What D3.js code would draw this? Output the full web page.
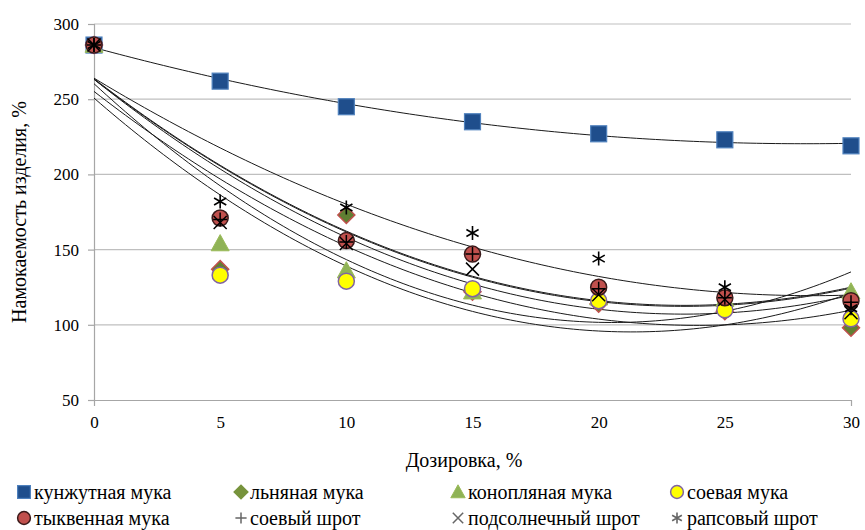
<!DOCTYPE html>
<html>
<head>
<meta charset="utf-8">
<script src="https://cdn.jsdelivr.net/npm/d3@7"></script>
<style>
  html, body { margin: 0; padding: 0; background: #fff; }
  svg { display: block; }
  svg text { font-family: "Times New Roman", "Liberation Serif", Times, "DejaVu Serif", "Noto Serif", serif; }
</style>
</head>
<body>
<svg id="chart" width="865" height="530"></svg>
<script>
// Dosage levels, %
const dosage = [0, 5, 10, 15, 20, 25, 30];

// Wettability of the product, % — one array per additive
const sesameFlour    = [286, 262, 245, 235, 227, 223, 219];
const flaxFlour      = [286, 137, 173, 122, 114, 109, 98];
const hempFlour      = [286, 154, 136, 122, 118, 117, 122];
const soyFlour       = [286, 133, 129, 124, 116, 110, 104];
const pumpkinFlour   = [286, 171, 156, 147, 125, 118, 116];
const soyMeal        = [286, 170, 155, 147, 124, 118, 115];
const sunflowerMeal  = [286, 168, 154, 137, 120, 117, 108];
const rapeseedMeal   = [286, 182, 178, 161, 144, 125, 111];

const seriesNames = [
  "кунжутная мука", "льняная мука", "конопляная мука", "соевая мука",
  "тыквенная мука", "соевый шрот", "подсолнечный шрот", "рапсовый шрот"
];
const seriesValues = [
  sesameFlour, flaxFlour, hempFlour, soyFlour,
  pumpkinFlour, soyMeal, sunflowerMeal, rapeseedMeal
];

const xTicks = [0, 5, 10, 15, 20, 25, 30];
const yTicks = [50, 100, 150, 200, 250, 300];

const TICK_FS = 17;
const TEXT_FS = 20;

// Marker look for each series
const markerStyle = [
  { shape: "square",   fill: "#1f4e8c", stroke: "#4f81bd" },
  { shape: "diamond",  fill: "#5f7f32", stroke: "#c0504d" },
  { shape: "triangle", fill: "#8fb356", stroke: "#9bbb59" },
  { shape: "circle",   fill: "#ffff00", stroke: "#8064a2" },
  { shape: "circle",   fill: "#c0504d", stroke: "#3a1a1a" },
  { shape: "plus",     fill: "none",    stroke: "#000" },
  { shape: "cross",    fill: "none",    stroke: "#000" },
  { shape: "star",     fill: "none",    stroke: "#000" }
];

const svg = d3.select("#chart");
const margin = { left: 94, right: 14, top: 24, bottom: 130 };
const W = 865, H = 530;

const x = d3.scaleLinear().domain([0, 30]).range([margin.left, W - margin.right]);
const y = d3.scaleLinear().domain([50, 300]).range([H - margin.bottom, margin.top]);

// Horizontal gridlines
svg.append("g")
  .selectAll("line")
  .data(yTicks.filter(d => d > 50))
  .join("line")
  .attr("x1", x(0)).attr("x2", x(30))
  .attr("y1", d => y(d)).attr("y2", d => y(d))
  .attr("stroke", "#bfbfbf").attr("stroke-width", 1.2);

// Axes
const yAxis = svg.append("g")
  .attr("transform", `translate(${x(0)},0)`)
  .call(d3.axisLeft(y).tickValues(yTicks).tickSize(6).tickPadding(9));
const xAxis = svg.append("g")
  .attr("transform", `translate(0,${y(50)})`)
  .call(d3.axisBottom(x).tickValues(xTicks).tickSize(6).tickPadding(10));
[yAxis, xAxis].forEach(g => {
  g.attr("font-family", null);
  g.select(".domain").attr("stroke", "#a6a6a6").attr("stroke-width", 1.2);
  g.selectAll(".tick line").attr("stroke", "#a6a6a6").attr("stroke-width", 1.2);
  g.selectAll("text").attr("font-size", TICK_FS).attr("fill", "#000");
});
xAxis.selectAll(".tick line").attr("y2", 0);

// Axis titles
svg.append("text")
  .attr("x", 464).attr("y", 467)
  .attr("text-anchor", "middle").attr("font-size", TEXT_FS)
  .text("Дозировка, %");
svg.append("text")
  .attr("transform", `translate(26,${(y(50) + y(300)) / 2}) rotate(-90)`)
  .attr("text-anchor", "middle").attr("font-size", TEXT_FS)
  .text("Намокаемость изделия, %");

// Second-order least-squares trendline for a series
function polyFit2(xs, ys) {
  const s = [0, 0, 0, 0, 0], t = [0, 0, 0];
  xs.forEach((xv, i) => {
    const yv = ys[i];
    for (let k = 0; k < 5; k++) s[k] += Math.pow(xv, k);
    for (let k = 0; k < 3; k++) t[k] += Math.pow(xv, k) * yv;
  });
  const A = [
    [s[0], s[1], s[2], t[0]],
    [s[1], s[2], s[3], t[1]],
    [s[2], s[3], s[4], t[2]]
  ];
  for (let i = 0; i < 3; i++) {
    let p = i;
    for (let r = i + 1; r < 3; r++) if (Math.abs(A[r][i]) > Math.abs(A[p][i])) p = r;
    [A[i], A[p]] = [A[p], A[i]];
    for (let r = 0; r < 3; r++) {
      if (r === i) continue;
      const f = A[r][i] / A[i][i];
      for (let c = i; c < 4; c++) A[r][c] -= f * A[i][c];
    }
  }
  return [A[0][3] / A[0][0], A[1][3] / A[1][1], A[2][3] / A[2][2]];
}

const line = d3.line().x(d => x(d[0])).y(d => y(d[1]));
const trendG = svg.append("g");
seriesValues.forEach(vals => {
  const c = polyFit2(dosage, vals);
  const pts = d3.range(0, 30.001, 0.25).map(v => [v, c[0] + c[1] * v + c[2] * v * v]);
  trendG.append("path")
    .attr("d", line(pts))
    .attr("fill", "none").attr("stroke", "#1a1a1a").attr("stroke-width", 1);
});

// Marker drawing
function drawMarker(g, shape, cx, cy, st, scale) {
  const k = scale || 1;
  if (shape === "square") {
    const s = 16 * k;
    g.append("rect").attr("x", cx - s / 2).attr("y", cy - s / 2).attr("width", s).attr("height", s)
      .attr("fill", st.fill).attr("stroke", st.stroke).attr("stroke-width", 1.2);
  } else if (shape === "diamond") {
    const r = 8.5 * k;
    g.append("path").attr("d", `M${cx},${cy - r}L${cx + r},${cy}L${cx},${cy + r}L${cx - r},${cy}Z`)
      .attr("fill", st.fill).attr("stroke", st.stroke).attr("stroke-width", 1.5);
  } else if (shape === "triangle") {
    const r = 9 * k;
    g.append("path").attr("d", `M${cx},${cy - r}L${cx + r},${cy + r * 0.8}L${cx - r},${cy + r * 0.8}Z`)
      .attr("fill", st.fill).attr("stroke", st.stroke).attr("stroke-width", 1);
  } else if (shape === "circle") {
    g.append("circle").attr("cx", cx).attr("cy", cy).attr("r", 8 * k)
      .attr("fill", st.fill).attr("stroke", st.stroke).attr("stroke-width", 1.5);
  } else if (shape === "plus") {
    const r = 7 * k;
    g.append("path").attr("d", `M${cx - r},${cy}H${cx + r}M${cx},${cy - r}V${cy + r}`)
      .attr("stroke", st.stroke).attr("stroke-width", 1.5).attr("fill", "none");
  } else if (shape === "cross") {
    const r = 6.5 * k;
    g.append("path").attr("d", `M${cx - r},${cy - r}L${cx + r},${cy + r}M${cx - r},${cy + r}L${cx + r},${cy - r}`)
      .attr("stroke", st.stroke).attr("stroke-width", 1.5).attr("fill", "none");
  } else if (shape === "star") {
    const r = 7 * k;
    g.append("path").attr("d",
      `M${cx},${cy - r}V${cy + r}M${cx - r * 0.87},${cy - r * 0.5}L${cx + r * 0.87},${cy + r * 0.5}` +
      `M${cx - r * 0.87},${cy + r * 0.5}L${cx + r * 0.87},${cy - r * 0.5}`)
      .attr("stroke", st.stroke).attr("stroke-width", 1.6).attr("fill", "none");
  }
}

const markG = svg.append("g");
seriesValues.forEach((vals, si) => {
  const g = markG.append("g");
  vals.forEach((v, i) => drawMarker(g, markerStyle[si].shape, x(dosage[i]), y(v), markerStyle[si]));
});

// Legend, two rows of four entries
const legendMarkX = [24, 241, 458, 677];
const legendTextX = [34, 250, 468, 687];
const legendRows = [492, 518];
const legendStyle = markerStyle.map((st, i) => {
  if (i === 1) return { ...st, fill: "#77933c", stroke: "#77933c" };
  if (i >= 5) return { ...st, stroke: "#666" };
  return st;
});
seriesNames.forEach((name, i) => {
  const col = i % 4, row = Math.floor(i / 4);
  const g = svg.append("g");
  const cy = legendRows[row];
  drawMarker(g, legendStyle[i].shape, legendMarkX[col], cy, legendStyle[i], 0.8);
  g.append("text")
    .attr("x", legendTextX[col]).attr("y", cy + 6.5)
    .attr("font-size", TEXT_FS).text(name);
});
</script>
</body>
</html>
